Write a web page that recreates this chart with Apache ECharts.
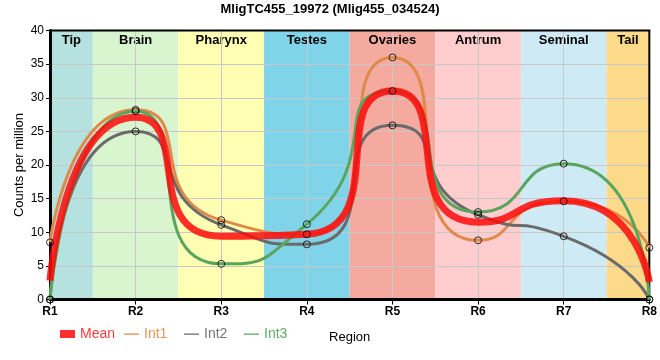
<!DOCTYPE html>
<html><head><meta charset="utf-8">
<script src="https://cdn.jsdelivr.net/npm/echarts@6/dist/echarts.min.js"></script>
<style>html,body{margin:0;padding:0;background:#fff}#c{width:660px;height:360px}</style>
</head><body><div id="c"></div>
<script>
const titleText = 'MligTC455_19972 (Mlig455_034524)';
const regions = ['R1','R2','R3','R4','R5','R6','R7','R8'];
const yTicks = [0,5,10,15,20,25,30,35,40];
const meanVals = [2.8, 27.1, 9.4, 9.7, 31.0, 11.5, 14.7, 2.6];
const int1Vals = [8.5, 28.2, 11.8, 9.7, 36.0, 8.8, 14.6, 7.7];
const int2Vals = [0, 25.0, 11.1, 8.2, 25.9, 12.6, 9.4, 0];
const int3Vals = [0, 28.0, 5.3, 11.2, 31.0, 13.0, 20.2, 0];
const bandNames = ['Tip','Brain','Pharynx','Testes','Ovaries','Antrum','Seminal','Tail'];
const bandStart = [0, 0.5, 1.5, 2.5, 3.5, 4.5, 5.5, 6.5];
const bandEnd   = [0.5, 1.5, 2.5, 3.5, 4.5, 5.5, 6.5, 7];
const bandColors = ['#b5e2de','#d9f5d0','#ffffb4','#80d4ea','#f5aa9f','#ffcdce','#ceebf5','#fdd98a'];

const toXY = arr => arr.map((v,i)=>[i,v]);
const C = {Mean:'rgba(255,10,10,0.85)', Int1:'#e08a4a', Int2:'#6a6a6a', Int3:'#5aa55e'};
const txtC = {Mean:'#ff3b3b', Int1:'#e8955a', Int2:'#767676', Int3:'#5fae63'};
const font = 'Liberation Sans, Arial, sans-serif';
const SM = 0.75;

const chart = echarts.init(document.getElementById('c'), null, {renderer:'canvas'});
const lineSeries = (name, vals, w, z) => ({
  name, type:'line', data: toXY(vals), smooth:SM, showSymbol:false, z,
  lineStyle:{color:C[name], width:w}, itemStyle:{color:C[name]}, silent:true
});
const dotSeries = (name, vals) => ({
  name, type:'scatter', data: toXY(vals), symbol:'circle', symbolSize:7, z:6,
  itemStyle:{color:'rgba(0,0,0,0)', borderColor:'#000', borderWidth:1}, silent:true
});
const lineIcon = 'path://M0,0L20,0M0,3.3h20v1.6h-20zM0,8L20,8';
const mkLegend = (name, left, icon) => ({
  left, top: 322, itemWidth: 15, itemHeight: 8, selectedMode:false,
  data:[{name, icon, itemStyle:{color:C[name], opacity:1}, textStyle:{color:txtC[name]}}],
  textStyle:{fontSize:14, fontFamily:font}, itemGap: 4
});

chart.setOption({
  animation:false,
  title:{text:titleText, left:'center', top:-2, textStyle:{fontSize:13, fontWeight:'bold', fontFamily:font, color:'#000'}},
  grid:{left:50, right:10, top:30.5, bottom:60.5, show:true, borderColor:'#000', borderWidth:2, z:3, backgroundColor:'transparent'},
  legend:[
    mkLegend('Mean', 55, 'rect'),
    mkLegend('Int1', 119, lineIcon),
    mkLegend('Int2', 179, lineIcon),
    mkLegend('Int3', 239, lineIcon)
  ],
  xAxis:{type:'value', min:0, max:7, interval:1, z:2,
    name:'Region', nameLocation:'middle', nameGap:31,
    nameTextStyle:{fontSize:13, color:'#000', fontFamily:font},
    axisLine:{lineStyle:{color:'#000', width:3}},
    axisTick:{show:true, length:5, lineStyle:{color:'#000'}},
    axisLabel:{formatter:v=>regions[v], fontWeight:'bold', fontSize:12, color:'#000', fontFamily:font, margin:6},
    splitLine:{show:true, lineStyle:{color:'#c8c8c8', width:1}}
  },
  yAxis:{type:'value', min:yTicks[0], max:yTicks[yTicks.length-1], interval:5, z:2,
    name:'Counts per million', nameLocation:'middle', nameGap:24, nameMoveOverlap:false,
    nameTextStyle:{fontSize:13, color:'#000', fontFamily:font},
    axisLine:{show:true, lineStyle:{color:'#000', width:3}},
    axisTick:{show:true, length:4, lineStyle:{color:'#000'}},
    axisLabel:{fontSize:12, color:'#000', fontFamily:font, margin:6},
    splitLine:{show:true, lineStyle:{color:'#c8c8c8', width:1}}
  },
  series:[
    {type:'line', data: toXY(meanVals), z:1, silent:true, showSymbol:false,
     lineStyle:{opacity:0}, itemStyle:{opacity:0},
     markArea:{silent:true,
       label:{position:'insideTop', fontWeight:'bold', fontSize:13, color:'#000', fontFamily:font, distance:3},
       data: bandNames.map((n,i)=>[{name:n, xAxis:bandStart[i], itemStyle:{color:bandColors[i], opacity:1}},{xAxis:bandEnd[i]}])
     }},
    lineSeries('Int1', int1Vals, 3, 4),
    lineSeries('Int2', int2Vals, 3, 4),
    lineSeries('Int3', int3Vals, 3, 4),
    lineSeries('Mean', meanVals, 7, 5),
    dotSeries('Int1', int1Vals),
    dotSeries('Int2', int2Vals),
    dotSeries('Int3', int3Vals)
  ]
});
</script></body></html>
